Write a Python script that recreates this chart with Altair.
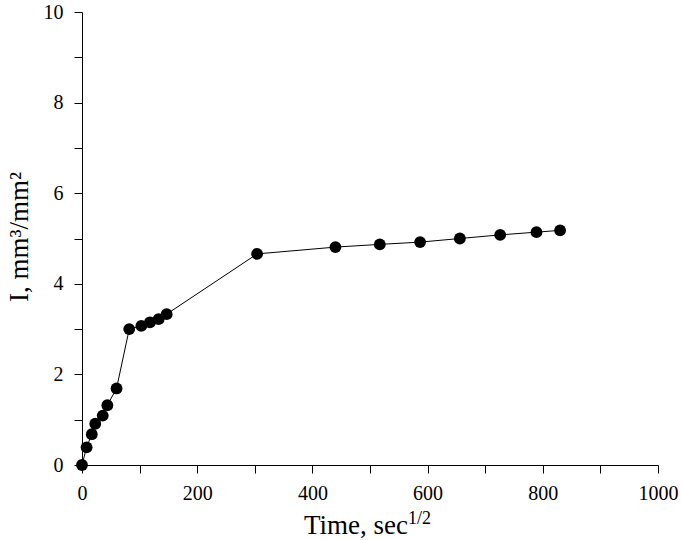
import altair as alt
import pandas as pd

time_vals = [0, 8, 17, 23, 36, 44, 60, 82, 103, 118, 133, 147, 304, 440, 517, 587, 656, 726, 789, 830]
i_vals = [0, 0.39, 0.68, 0.91, 1.09, 1.32, 1.69, 3.0, 3.07, 3.15, 3.22, 3.33, 4.66, 4.81, 4.87, 4.92, 5.0, 5.08, 5.14, 5.18]
x_ticks = list(range(0, 1001, 100))
y_ticks = list(range(0, 11, 1))

df = pd.DataFrame({"t": time_vals, "I": i_vals})
FONT = "Liberation Serif"

xs = alt.Scale(domain=[0, 1000], nice=False, zero=True)
ys = alt.Scale(domain=[0, 10], nice=False, zero=True)

xaxis = alt.Axis(values=x_ticks, format="d",
                 labelExpr="datum.value % 200 === 0 ? datum.label : ''",
                 title=None, grid=False, tickSize=8, labelPadding=10, labelFont=FONT,
                 labelFontSize=20, labelColor="black", domainColor="black", tickColor="black",
                 labelFlush=False, labelOverlap=False)
yaxis = alt.Axis(values=y_ticks, format="d",
                 labelExpr="datum.value % 2 === 0 ? datum.label : ''",
                 title=None, grid=False, tickSize=8, labelPadding=11, labelFont=FONT,
                 labelFontSize=20, labelColor="black", domainColor="black", tickColor="black",
                 labelOverlap=False)

base = alt.Chart(df)
line = base.mark_line(color="black", strokeWidth=1).encode(
    x=alt.X("t:Q", scale=xs, axis=xaxis),
    y=alt.Y("I:Q", scale=ys, axis=yaxis),
)
pts = base.mark_circle(color="black", size=140, opacity=1).encode(
    x=alt.X("t:Q", scale=xs),
    y=alt.Y("I:Q", scale=ys),
)

one = pd.DataFrame({"a": [0]})
xtitle = alt.Chart(one).mark_text(text="Time, sec", font=FONT, fontSize=27, align="right",
                                  baseline="alphabetic", color="black").encode(
    x=alt.value(326), y=alt.value(522))
xsup = alt.Chart(one).mark_text(text="1/2", font=FONT, fontSize=18, align="left",
                                baseline="alphabetic", color="black").encode(
    x=alt.value(326), y=alt.value(512))
ytitle = alt.Chart(one).mark_text(text="I, mm³/mm²", font=FONT, fontSize=27, align="center",
                                  baseline="middle", angle=270, color="black").encode(
    x=alt.value(-62), y=alt.value(225))

chart = alt.layer(line, pts, xtitle, xsup, ytitle).properties(
    width=576, height=453, autosize=alt.AutoSizeParams(type="none"),
    padding={"left": 82, "top": 12, "right": 24, "bottom": 75},
    background="white",
).configure_view(stroke=None).configure_axis(labelFont=FONT, labelFontSize=20)

chart.save("out.html", embed_options={"renderer": "svg", "actions": False})
